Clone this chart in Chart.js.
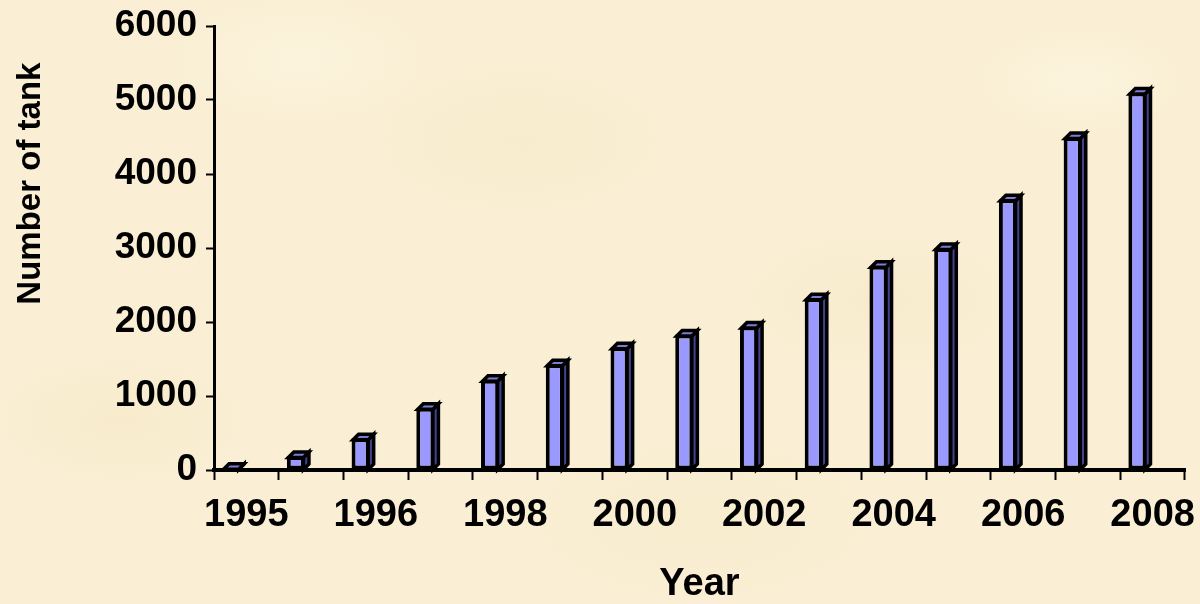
<!DOCTYPE html>
<html>
<head>
<meta charset="utf-8">
<script src="https://cdn.jsdelivr.net/npm/chart.js@4.4.1/dist/chart.umd.min.js"></script>
<style>
  html, body { margin: 0; padding: 0; }
  body {
    width: 1200px; height: 604px; overflow: hidden;
    background-color: #faefd4;
    background-image:
      radial-gradient(ellipse 180px 90px at 120px 420px, rgba(238,222,178,0.25), rgba(238,222,178,0) 70%),
      radial-gradient(ellipse 220px 110px at 520px 140px, rgba(240,224,182,0.22), rgba(240,224,182,0) 70%),
      radial-gradient(ellipse 200px 100px at 880px 300px, rgba(238,222,180,0.22), rgba(238,222,180,0) 70%),
      radial-gradient(ellipse 260px 120px at 700px 520px, rgba(240,226,186,0.22), rgba(240,226,186,0) 70%),
      radial-gradient(ellipse 160px 80px at 1080px 80px, rgba(255,250,235,0.40), rgba(255,250,235,0) 70%),
      radial-gradient(ellipse 200px 100px at 300px 60px, rgba(255,250,236,0.35), rgba(255,250,236,0) 70%);
  }
  #wrap { position: absolute; left: 0; top: 0; width: 1200px; height: 604px; }
</style>
</head>
<body>
<div id="wrap"><canvas id="chart" width="1200" height="604"></canvas></div>
<script>
// Tank counts per period, 1995–2008
const categories = ['1995', '1995', '1996', '1997', '1998', '1999', '2000', '2001',
                    '2002', '2003', '2004', '2005', '2006', '2007', '2008'];
const tankCounts = [30, 190, 430, 840, 1220, 1430, 1660, 1830,
                    1940, 2320, 2760, 3000, 3660, 4500, 5100];
// Labels printed under the axis (every other category)
const tickLabels = ['1995', '', '1996', '', '1998', '', '2000', '',
                    '2002', '', '2004', '', '2006', '', '2008'];
const yTicks = [0, 1000, 2000, 3000, 4000, 5000, 6000];

const FONT = "'Liberation Sans', Arial, sans-serif";
const FRONT = '#9999ff';
const SIDE = '#42428f';
const TOP = '#7c7cd4';

// Column-chart depth: shift each front face left of its category centre
// and add a top and a right-hand face.
const depthBars = {
  id: 'depthBars',
  afterDatasetsUpdate(chart) {
    const meta = chart.getDatasetMeta(0);
    const xs = chart.scales.x;
    const cw = (xs.right - xs.left) / xs.ticks.length;
    meta.data.forEach(el => { el.x = el.x - 0.235 * cw; });
  },
  afterDatasetsDraw(chart) {
    const {ctx} = chart;
    const meta = chart.getDatasetMeta(0);
    const xs = chart.scales.x;
    const cw = (xs.right - xs.left) / xs.ticks.length;
    const d = 0.085 * cw;
    ctx.save();
    ctx.lineJoin = 'miter';
    ctx.strokeStyle = '#000';
    ctx.lineWidth = 3.5;
    meta.data.forEach(el => {
      const l = el.x - el.width / 2;
      const r = el.x + el.width / 2 - 1.5;
      const t = el.y + 1.5;
      const b = el.base;
      // right face
      ctx.beginPath();
      ctx.moveTo(r, b);
      ctx.lineTo(r, t);
      ctx.lineTo(r + d, t - d);
      ctx.lineTo(r + d, b - d);
      ctx.closePath();
      ctx.fillStyle = SIDE;
      ctx.fill();
      ctx.stroke();
      // top face
      ctx.beginPath();
      ctx.moveTo(l + 1.5, t);
      ctx.lineTo(l + 1.5 + d, t - d);
      ctx.lineTo(r + d, t - d);
      ctx.lineTo(r, t);
      ctx.closePath();
      ctx.fillStyle = TOP;
      ctx.fill();
      ctx.stroke();
    });
    ctx.restore();
  }
};

// Vertical axis title
const yTitle = {
  id: 'yTitle',
  afterDraw(chart) {
    const {ctx, chartArea} = chart;
    const cy = chartArea.top + 0.355 * (chartArea.bottom - chartArea.top);
    ctx.save();
    ctx.translate(31, cy);
    ctx.rotate(-Math.PI / 2);
    ctx.font = "bold 33px " + FONT;
    ctx.fillStyle = '#000';
    ctx.textAlign = 'center';
    ctx.textBaseline = 'middle';
    ctx.fillText('Number of tank', 0, 0);
    ctx.restore();
  }
};

new Chart(document.getElementById('chart'), {
  type: 'bar',
  data: {
    labels: categories,
    datasets: [{
      data: tankCounts,
      backgroundColor: FRONT,
      borderColor: '#000',
      borderWidth: 4,
      borderSkipped: false,
      categoryPercentage: 1,
      barPercentage: 0.28
    }]
  },
  options: {
    responsive: false,
    animation: false,
    devicePixelRatio: 1,
    layout: { padding: { left: 0, right: 15, top: 26, bottom: 0 } },
    plugins: { legend: { display: false }, tooltip: { enabled: false } },
    scales: {
      x: {
        offset: true,
        grid: {
          offset: true,
          drawOnChartArea: false,
          drawTicks: true,
          tickLength: 10,
          tickWidth: 2,
          tickColor: '#000'
        },
        border: { display: true, color: '#000', width: 4 },
        ticks: {
          autoSkip: false,
          maxRotation: 0,
          padding: 13,
          color: '#000',
          font: { family: FONT, size: 38, weight: 'bold' },
          callback: (v, i) => tickLabels[i]
        },
        title: {
          display: true,
          text: 'Year',
          color: '#000',
          font: { family: FONT, size: 38, weight: 'bold', lineHeight: 1 },
          padding: { top: 0, bottom: 0 }
        },
        afterFit(scale) { scale.height = 134; scale.paddingLeft = 0; scale.paddingRight = 0; }
      },
      y: {
        min: 0,
        max: 6000,
        afterBuildTicks(scale) { scale.ticks = yTicks.map(v => ({ value: v })); },
        grid: {
          drawOnChartArea: false,
          drawTicks: true,
          tickLength: 8,
          tickWidth: 2,
          tickColor: '#000'
        },
        border: { display: true, color: '#000', width: 3 },
        ticks: {
          padding: 9,
          color: '#000',
          font: { family: FONT, size: 37, weight: 'bold' },
          callback: v => String(v)
        },
        afterFit(scale) { scale.width = 214; scale.paddingTop = 0; scale.paddingBottom = 0; }
      }
    }
  },
  plugins: [depthBars, yTitle]
});
</script>
</body>
</html>
